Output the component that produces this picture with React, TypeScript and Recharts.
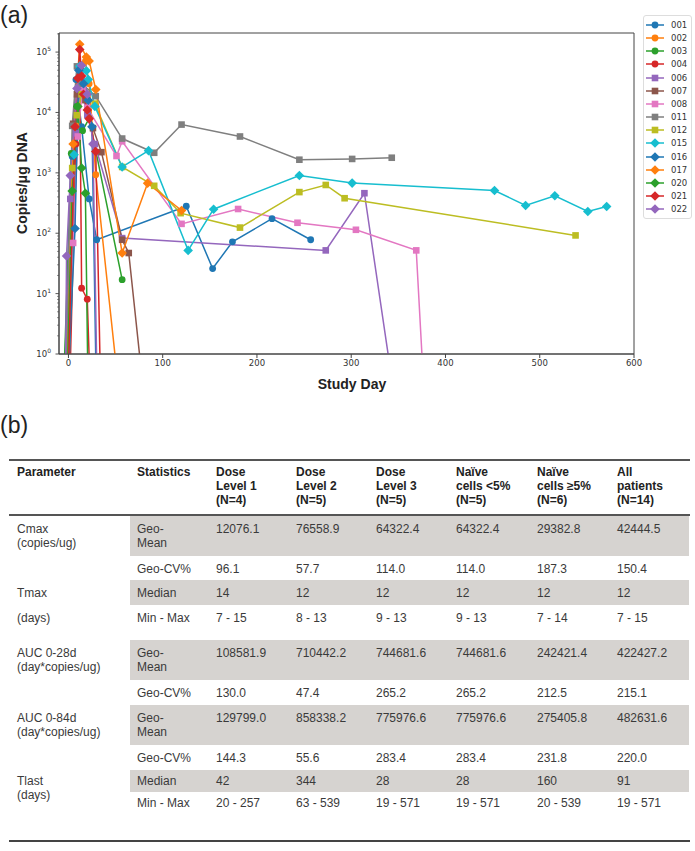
import React from 'react';
import { LineChart, Line, XAxis, YAxis, ReferenceArea } from 'recharts';

// subject ids and their copies/ug DNA by study day (0 = below quantification)
const SUBJECTS = ['001', '002', '003', '004', '006', '007', '008', '011', '012', '015', '016', '017', '020', '021', '022'];

const s001 = [[-8, 0], [4, 1870], [8, 35000], [14, 5800], [22, 370], [30, 78], [125, 280], [153, 26], [174, 72], [216, 174], [257, 78]];
const s002 = [[-3, 0], [8, 6000], [12, 55000], [18, 70000], [22, 30000], [29, 930], [63, 0]];
const s003 = [[-8, 0], [3, 2100], [9, 12600], [15, 5000], [22, 8000], [57, 17]];
const s004 = [[-1, 0], [8, 3000], [12, 40000], [14, 12.3], [20, 8.1], [26, 0]];
const s006 = [[-6, 0], [2, 370], [8, 4500], [13, 27000], [20, 9000], [28, 3000], [57, 83], [273, 52], [314, 460], [358, 0]];
const s007 = [[-4, 0], [5, 6500], [9, 20000], [13, 55000], [18, 16000], [26, 5500], [35, 2200], [57, 78], [64, 47], [89, 0]];
const s008 = [[-6, 0], [5, 69], [10, 4000], [15, 25000], [20, 12000], [51, 1900], [57, 3330], [120, 143], [180, 252], [243, 149], [305, 114], [369, 52], [382, 0]];
const s011 = [[-5, 0], [4, 6000], [9, 58000], [14, 30000], [29, 18600], [57, 3700], [91, 2150], [120, 6300], [182, 4000], [245, 1650], [301, 1700], [343, 1780]];
const s012 = [[-3, 0], [4, 1200], [9, 9000], [14, 20000], [28, 14000], [57, 1250], [91, 610], [119, 215], [182, 124], [245, 480], [273, 630], [293, 380], [538, 92]];
const s015 = [[-2, 0], [6, 2000], [12, 58000], [19, 49000], [21, 35000], [28, 12600], [57, 1250], [85, 2330], [127, 52], [154, 250], [245, 906], [301, 677], [452, 511], [485, 288], [516, 418], [551, 229], [571, 277]];
const s016 = [[-5, 0], [7, 120], [11, 50000], [16, 30000], [21, 16000], [25, 5800], [31, 0]];
const s017 = [[-4, 0], [5, 3000], [12, 135000], [19, 83000], [22, 71000], [29, 24000], [57, 47], [84, 675], [120, 238]];
const s020 = [[-4, 0], [4, 500], [10, 12600], [14, 1200], [18, 460], [22, 0]];
const s021 = [[-3, 0], [7, 5800], [10, 37000], [12, 110000], [14, 40000], [16, 20000], [20, 11000], [22, 7900], [29, 2250], [36, 0]];
const s022 = [[-4, 0], [-2, 42], [2, 900], [9, 25000], [14, 60000], [20, 20000], [26, 3000], [32, 0]];

const SERIES = [s001, s002, s003, s004, s006, s007, s008, s011, s012, s015, s016, s017, s020, s021, s022];

const X_TICKS = [0, 100, 200, 300, 400, 500, 600];
const Y_DECADES = [0, 1, 2, 3, 4, 5];

// table (b)
const HEADERS = [
  ['Parameter'], ['Statistics'],
  ['Dose', 'Level 1', '(N=4)'], ['Dose', 'Level 2', '(N=5)'], ['Dose', 'Level 3', '(N=5)'],
  ['Naïve', 'cells <5%', '(N=5)'], ['Naïve', 'cells ≥5%', '(N=6)'], ['All', 'patients', '(N=14)'],
];
const ROW_PARAM = [['Cmax', '(copies/ug)'], [], ['Tmax'], ['(days)'], ['AUC 0-28d', '(day*copies/ug)'], [], ['AUC 0-84d', '(day*copies/ug)'], [], ['Tlast', '(days)'], []];
const ROW_STAT = [['Geo-', 'Mean'], ['Geo-CV%'], ['Median'], ['Min - Max'], ['Geo-', 'Mean'], ['Geo-CV%'], ['Geo-', 'Mean'], ['Geo-CV%'], ['Median'], ['Min - Max']];
const ROW_VALUES = [
  ['12076.1', '76558.9', '64322.4', '64322.4', '29382.8', '42444.5'],
  ['96.1', '57.7', '114.0', '114.0', '187.3', '150.4'],
  ['14', '12', '12', '12', '12', '12'],
  ['7 - 15', '8 - 13', '9 - 13', '9 - 13', '7 - 14', '7 - 15'],
  ['108581.9', '710442.2', '744681.6', '744681.6', '242421.4', '422427.2'],
  ['130.0', '47.4', '265.2', '265.2', '212.5', '215.1'],
  ['129799.0', '858338.2', '775976.6', '775976.6', '275405.8', '482631.6'],
  ['144.3', '55.6', '283.4', '283.4', '231.8', '220.0'],
  ['42', '344', '28', '28', '160', '91'],
  ['20 - 257', '63 - 539', '19 - 571', '19 - 571', '20 - 539', '19 - 571'],
];

// styling / layout
const PALETTE = ['#1f77b4', '#ff7f0e', '#2ca02c', '#d62728', '#9467bd', '#8c564b', '#e377c2', '#7f7f7f', '#bcbd22', '#17becf'];
const SHAPES = ['circle', 'circle', 'circle', 'circle', 'square', 'square', 'square', 'square', 'square', 'diamond', 'diamond', 'diamond', 'diamond', 'diamond', 'diamond'];
const COLORS = SUBJECTS.map((_, i) => PALETTE[i % 10]);
const FLOOR = 0.01;
const ROW_TOPS = [516, 556, 580, 605, 640, 680, 705, 745, 770, 792];
const ROW_HEIGHTS = [40, 24, 25, 24, 40, 25, 40, 25, 22, 22];
const COL_X = [17, 137, 216, 296, 376, 456, 537, 617];

const TICK_FONT = '"DejaVu Sans", sans-serif';
const SANS = '"Liberation Sans", Arial, sans-serif';

const Marker = ({ shape, cx, cy, color }: any) => {
  if (shape === 'square') return <rect x={cx - 3.3} y={cy - 3.3} width={6.6} height={6.6} fill={color} />;
  if (shape === 'diamond') {
    const r = 4.8;
    return <polygon points={`${cx},${cy - r} ${cx + r},${cy} ${cx},${cy + r} ${cx - r},${cy}`} fill={color} />;
  }
  return <circle cx={cx} cy={cy} r={3.4} fill={color} />;
};

const makeDot = (shape: string, color: string) => (props: any) => {
  const { cx, cy, payload, index } = props;
  if (!payload || payload.raw <= 0 || cx == null || cy == null) return <g key={`e-${index}`} />;
  return <g key={`d-${index}`}><Marker shape={shape} cx={cx} cy={cy} color={color} /></g>;
};

const yTicks: number[] = [];
Y_DECADES.forEach((d) => {
  for (let m = 1; m <= 9; m++) {
    const v = m * Math.pow(10, d);
    if (v <= 207000) yTicks.push(v);
  }
});

const LogTick = (props: any) => {
  const { x, y, payload } = props;
  const v = payload.value;
  const e = Math.round(Math.log10(v));
  const major = Math.abs(Math.log10(v) - e) < 1e-6;
  const ax = x + 7;
  return (
    <g>
      <line x1={ax - (major ? 3.5 : 2)} x2={ax} y1={y} y2={y} stroke="#444" strokeWidth={major ? 0.9 : 0.6} />
      {major && (
        <text x={x - 1} y={y + 3} textAnchor="end" fontSize={8.5} fill="#333" fontFamily={TICK_FONT}>
          10<tspan dy={-4} fontSize={6}>{e}</tspan>
        </text>
      )}
    </g>
  );
};

const Legend = () => (
  <div style={{ position: 'absolute', left: 643, top: 15, width: 47, height: 202, border: '1px solid #ddd', borderRadius: 3, background: '#fff' }}>
    {SUBJECTS.map((s, i) => (
      <div key={s} style={{ position: 'absolute', left: 0, top: 3 + i * 13.15, height: 12, display: 'flex', alignItems: 'center' }}>
        <svg width={24} height={12}>
          <line x1={2} x2={20} y1={6} y2={6} stroke={COLORS[i]} strokeWidth={1.5} />
          <Marker shape={SHAPES[i]} cx={11} cy={6} color={COLORS[i]} />
        </svg>
        <span style={{ fontFamily: TICK_FONT, fontSize: 8.5, color: '#333', marginLeft: 3 }}>{s}</span>
      </div>
    ))}
  </div>
);

const Table = () => {
  const text = (lines: string[], x: number, top: number, bold = false, key = '') => (
    <div key={key} style={{ position: 'absolute', left: x, top, fontFamily: SANS, fontSize: 12, lineHeight: '14px', color: bold ? '#222' : '#3a3a3a', fontWeight: bold ? 700 : 400, whiteSpace: 'nowrap' }}>
      {lines.map((l, i) => <div key={i}>{l}</div>)}
    </div>
  );
  return (
    <>
      <div style={{ position: 'absolute', left: 9, top: 459, width: 681, height: 2, background: '#555' }} />
      {HEADERS.map((h, i) => text(h, COL_X[i], 465, true, `h${i}`))}
      <div style={{ position: 'absolute', left: 9, top: 514, width: 681, height: 1.5, background: '#555' }} />
      {ROW_VALUES.map((vals, r) => (
        <React.Fragment key={r}>
          {r % 2 === 0 && (
            <div style={{ position: 'absolute', left: 130, top: ROW_TOPS[r], width: 559, height: ROW_HEIGHTS[r], background: '#d6d3d0' }} />
          )}
          {ROW_PARAM[r].length > 0 && text(ROW_PARAM[r], COL_X[0], ROW_TOPS[r] + (ROW_HEIGHTS[r] < 24 ? 4 : 6), false, `p${r}`)}
          {text(ROW_STAT[r], COL_X[1], ROW_TOPS[r] + (ROW_HEIGHTS[r] < 24 ? 4 : 6), false, `s${r}`)}
          {vals.map((v, c) => text([v], COL_X[c + 2], ROW_TOPS[r] + (ROW_HEIGHTS[r] < 24 ? 4 : 6), false, `v${r}-${c}`))}
        </React.Fragment>
      ))}
      <div style={{ position: 'absolute', left: 9, top: 840, width: 681, height: 2, background: '#444' }} />
    </>
  );
};

export default function App() {
  const series = SERIES.map((pts) => pts.map(([day, v]) => ({ day, raw: v, y: v > 0 ? v : FLOOR })));
  return (
    <div style={{ position: 'absolute', left: 0, top: 0, width: 695, height: 851, background: '#fff', overflow: 'hidden' }}>
      <div style={{ position: 'absolute', left: 0, top: 2, fontFamily: SANS, fontSize: 23, color: '#222' }}>(a)</div>
      <div style={{ position: 'absolute', left: 0, top: 412, fontFamily: SANS, fontSize: 23, color: '#222' }}>(b)</div>
      <div style={{ position: 'absolute', left: 0, top: 0 }}>
        <LineChart width={695} height={400} margin={{ top: 33, right: 61, bottom: 0, left: 0 }}>
          <XAxis
            dataKey="day"
            type="number"
            domain={[-10, 600]}
            allowDataOverflow
            ticks={X_TICKS}
            tickSize={4}
            tickMargin={2}
            height={46}
            stroke="#444"
            tick={{ fontSize: 8.5, fill: '#333', fontFamily: TICK_FONT }}
          />
          <YAxis
            scale="log"
            type="number"
            domain={[1, 207000]}
            allowDataOverflow
            ticks={yTicks}
            interval={0}
            tickSize={4}
            tickMargin={3}
            tickLine={false}
            width={59}
            stroke="#444"
            tick={<LogTick />}
          />
          <ReferenceArea x1={-10} x2={600} y1={1} y2={207000} fill="none" stroke="#444" strokeWidth={1} ifOverflow="visible" />
          {series.map((pts, i) => (
            <Line
              key={SUBJECTS[i]}
              data={pts}
              dataKey="y"
              type="linear"
              stroke={COLORS[i]}
              strokeWidth={1.5}
              dot={makeDot(SHAPES[i], COLORS[i])}
              activeDot={false}
              isAnimationActive={false}
            />
          ))}
        </LineChart>
      </div>
      <div style={{ position: 'absolute', left: 22, top: 183, transform: 'translate(-50%, -50%) rotate(-90deg)', fontFamily: SANS, fontWeight: 700, fontSize: 14, color: '#222', whiteSpace: 'nowrap' }}>
        Copies/μg DNA
      </div>
      <div style={{ position: 'absolute', left: 352, top: 384, transform: 'translate(-50%, -50%)', fontFamily: SANS, fontWeight: 700, fontSize: 14, color: '#222', whiteSpace: 'nowrap' }}>
        Study Day
      </div>
      <Legend />
      <Table />
    </div>
  );
}
